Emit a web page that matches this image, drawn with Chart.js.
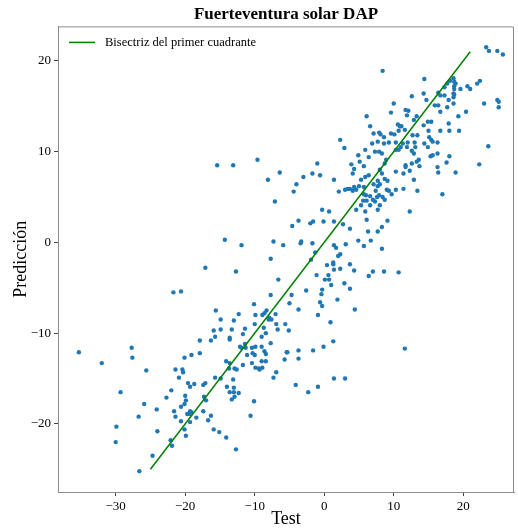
<!DOCTYPE html>
<html>
<head>
<meta charset="utf-8">
<script src="https://cdn.jsdelivr.net/npm/chart.js@4"></script>
<style>
  html, body { margin: 0; padding: 0; background: #fff; }
</style>
</head>
<body>
<canvas id="dapChart" width="518" height="528"></canvas>
<script>
// Test vs predicted DAP values, grouped by area of the plot
const testTop = [
  23.3, 23.7, 24.9, 25.7, 14.4, 18.1, 18.6, 18.7, 18.9, 17.7,
  17.3, 19.6, 20.6, 21.0, 22.0, 22.4, 18.7, 18.7, 18.6, 18.6,
  18.7, 14.3, 14.7, 12.6, 16.4, 16.7, 17.3, 17.9, 15.9, 16.4,
  17.7, 16.7, 18.6, 11.7, 12.1, 11.9, 13.3, 12.9, 14.9, 15.4,
  14.3, 17.9, 19.3, 20.4, 23.0, 24.9, 25.1, 25.1, 11.1, 11.6,
  15.0, 16.7, 18.0, 19.4, 12.7, 13.4, 15.1, 15.4, 15.6, 16.3,
  11.3, 12.0, 13.0, 14.4, 14.9, 11.0, 11.9, 12.6, 13.1, 12.9,
  23.6, 15.3, 15.6, 16.3, 18.0, 13.6, 13.3, 12.6, 11.7, 11.7,
  11.4, 12.3, 13.7, 16.3, 16.4, 17.6, 18.9, 22.3, 12.9
];
const predTop = [
  21.5, 21.1, 21.1, 20.7, 18.0, 17.8, 18.1, 17.7, 17.5, 17.5,
  17.1, 16.9, 17.2, 16.9, 17.5, 17.8, 17.2, 16.9, 16.4, 16.0,
  16.3, 16.4, 15.7, 16.1, 16.5, 16.2, 16.2, 15.7, 15.1, 15.1,
  14.9, 14.4, 15.3, 14.6, 14.5, 14.0, 13.9, 13.5, 13.3, 13.3,
  12.9, 13.1, 13.9, 14.4, 15.3, 15.7, 15.5, 14.9, 12.8, 12.4,
  12.3, 12.3, 12.3, 12.3, 11.8, 11.8, 11.6, 11.3, 11.1, 11.0,
  10.9, 11.0, 11.0, 10.9, 10.5, 10.5, 10.5, 10.1, 10.5, 9.8,
  10.6, 9.5, 9.6, 9.8, 9.5, 9.1, 8.9, 8.7, 8.5, 8.3,
  7.6, 7.9, 8.4, 8.3, 7.7, 8.8, 7.7, 8.6, 6.9
];

const testUpper = [
  8.4, 10.0, 9.6, 6.1, 6.6, 7.1, 7.9, 8.1, 8.6, 9.6,
  10.1, 10.7, 10.6, 10.9, 7.7, 6.9, 8.6, 9.3, 10.3, 2.3,
  2.9, 5.9, 7.3, 7.9, 8.3, 10.3, 10.7, 4.9, 6.4, 5.1,
  3.9, 4.3, 5.7, 8.9, 8.7, -1.0, -1.7, -3.0, -0.6, 1.4,
  4.1, 5.9, 6.4, 5.3, 8.3, 8.7, 7.7, 9.1, 10.3, 8.0,
  11.4, 13.4, 17.0, 12.3
];
const predUpper = [
  18.9, 15.3, 14.3, 13.9, 12.8, 12.0, 12.1, 11.9, 11.6, 12.0,
  11.9, 12.3, 13.0, 12.8, 11.1, 10.9, 10.9, 11.0, 11.0, 11.3,
  10.4, 10.2, 10.0, 10.0, 9.8, 10.2, 10.2, 9.6, 9.4, 8.9,
  8.6, 8.1, 8.4, 9.1, 8.7, 8.7, 7.6, 7.2, 7.4, 6.9,
  7.6, 7.2, 7.4, 6.9, 7.6, 7.0, 6.8, 6.8, 7.8, 8.0,
  5.9, 5.7, 5.3, 3.4
];

const testMid = [
  -4.0, -4.4, 2.1, 3.0, 3.4, 3.7, 4.1, 4.3, 4.6, 5.0,
  5.7, 6.0, 5.6, 6.1, 5.7, 6.6, 7.0, 7.3, 7.6, 7.9,
  8.4, 8.7, 7.4, 7.7, 8.0, 7.1, 9.0, 9.3, 9.7, 10.3,
  5.3, 6.6, 4.6, 8.0, 7.7, 5.9, -0.3, 0.7, -3.7, -4.6,
  -2.0, -1.6, -0.1, 1.4, 2.7, 6.1, 9.1, 3.7, 8.3, 6.3,
  7.7, -3.3, -3.4, -1.7, 1.4, 1.7, 3.1, 4.9, 5.7, 6.7,
  8.3, -1.3, 2.3, 2.0, -1.9, 1.3, 1.3, 3.7, 0.4, 1.4,
  2.3, 4.3, 7.0, 8.6, 10.7, 6.4, -1.1, 0.6, 0.7, 0.1,
  1.0, 2.9, -2.6, -0.3, 3.7, -0.4, -4.7, -5.0, 1.9, -0.6,
  -0.3, -3.7, 4.4, -0.9, 0.9, -5.1
];
const predMid = [
  6.4, 5.6, 5.6, 5.8, 5.9, 5.9, 5.7, 6.1, 5.8, 6.2,
  6.1, 5.2, 4.6, 4.6, 5.3, 5.1, 4.7, 4.5, 5.0, 5.2,
  5.0, 4.7, 5.7, 6.2, 6.4, 6.4, 5.8, 5.7, 5.3, 5.8,
  4.1, 4.1, 3.6, 4.1, 3.6, 3.4, 3.6, 3.4, 2.4, 1.8,
  2.1, 2.3, 2.3, 2.3, 2.0, 2.5, 2.4, 1.5, 1.7, 1.2,
  1.2, 0.1, -0.1, -0.1, -0.3, -0.6, -0.2, 0.2, -0.4, 0.2,
  -0.7, -1.1, -1.3, -1.5, -1.9, -2.2, -2.4, -2.4, -2.5, -3.0,
  -2.9, -3.1, -3.2, -3.2, -3.3, -3.7, -3.6, -3.6, -4.1, -4.1,
  -4.7, -4.5, -5.3, -5.2, -5.1, -5.7, -5.8, -6.7, -6.3, -6.6,
  -7.0, -7.4, -7.4, -8.0, -8.8, -9.7
];

const testLeft = [
  -7.1, -14.3, -11.9, -7.3, -5.9, -7.7, -17.1, -12.7, -6.6, -21.7,
  -20.6, -7.7, -10.1, -15.6, -8.3, -8.6, -8.9, -9.9, -12.3, -7.0,
  -14.9, -13.0, -7.9, -7.6, -8.0, -10.0, -6.9, -6.7, -11.4, -13.3,
  -14.9, -15.9, -8.7, -5.6, -11.7, -8.4, -15.7, -13.6, -9.0,
  -15.4, -13.1, -9.6, -8.1, -6.4
];
const predLeft = [
  4.5, 0.3, -0.3, 0.1, -0.3, -1.8, -2.8, -3.2, -4.1, -5.5,
  -5.4, -5.8, -6.8, -7.5, -7.5, -7.8, -8.0, -8.0, -7.9, -7.9,
  -8.5, -8.6, -8.3, -8.5, -8.5, -9.0, -9.0, -9.6, -9.5, -9.6,
  -9.6, -9.7, -9.4, -9.0, -10.1, -10.0, -10.4, -10.5, -10.4,
  8.5, 8.5, 9.1, 6.9, 7.7
];

const testLower = [
  -17.9, -16.3, -13.6, -11.4, -12.1, -11.9, -11.3, -10.4, -9.9, -9.0,
  -8.6, -8.4, -7.7, -10.3, -10.0, -20.1, -19.1, -17.9, -11.1, -9.0,
  -8.4, -5.7, -5.4, -14.1, -13.6, -10.4, -11.7, -12.9, -13.7, -12.6,
  -9.9, -9.4, -9.3, -8.9, -21.4, -20.4, -20.3, -20.9, -15.7, -14.9,
  -13.1, -7.3, -6.9, -19.6, -19.3, -18.7, -17.4, -17.1, -14.0, -13.0,
  -13.6, -13.0, -12.3, -12.9, -13.3, -20.0, -17.3, -19.9, -17.0, -10.1,
  -20.1, -20.6, -17.4, -21.6, -21.4, -19.3, -19.1, -19.7, -19.4, -18.4,
  -16.3, -10.6, -20.6, -19.3, -16.7, -20.1, -19.9, -15.9, -15.1, -14.1,
  -12.7, -21.9
];
const predLower = [
  -10.8, -10.8, -10.7, -11.2, -11.5, -11.6, -11.6, -11.6, -11.5, -11.5,
  -12.0, -12.3, -11.1, -12.2, -12.4, -12.7, -12.4, -12.2, -12.4, -13.1,
  -13.1, -12.9, -12.1, -13.1, -13.3, -13.3, -13.5, -13.9, -13.9, -14.0,
  -13.8, -13.9, -14.0, -13.8, -14.0, -14.0, -14.3, -14.9, -14.9, -15.0,
  -15.1, -14.9, -14.3, -15.5, -15.9, -15.6, -15.7, -15.5, -15.9, -16.0,
  -16.5, -16.5, -16.6, -17.0, -17.3, -16.9, -17.0, -17.4, -17.4, -17.5,
  -17.8, -18.1, -18.6, -18.6, -19.2, -18.6, -18.7, -18.9, -18.9, -19.3,
  -19.1, -19.1, -19.7, -19.8, -19.6, -20.6, -21.3, -20.6, -20.9, -21.5,
  -22.8, -22.4
];

const testTail = [
  -35.3, -32.0, -27.7, -27.6, -25.6, -29.3, -22.0, -22.7, -25.9, -24.1,
  -26.7, -29.9, -30.0, -24.0, -22.1, -24.7, -26.6,
  -5.3, -3.7, -3.7, -1.6, -0.1, 1.3, 1.4, 3.0, -4.1, -2.3, -0.9,
  11.6
];
const predTail = [
  -12.1, -13.3, -11.6, -12.7, -14.1, -16.5, -16.3, -17.1, -17.8, -18.4,
  -19.2, -20.3, -22.0, -20.8, -21.8, -23.5, -25.2,
  -12.1, -11.9, -12.8, -11.9, -11.5, -10.9, -15.0, -15.0, -15.7, -16.5, -15.9,
  -11.7
];

// ends of the y = x reference line
const bisectorEnds = [-25, 21];
const xTicks = [-30, -20, -10, 0, 10, 20];
const yTicks = [-20, -10, 0, 10, 20];

const serif = "'Liberation Serif', 'Times New Roman', serif";
const legendText = 'Bisectriz del primer cuadrante';

const testAll = [].concat(testTop, testUpper, testMid, testLeft, testLower, testTail);
const predAll = [].concat(predTop, predUpper, predMid, predLeft, predLower, predTail);
const points = testAll.map((t, i) => ({ x: t, y: predAll[i] }));

const minusSign = v => String(v).replace('-', '\u2212');

// closes the box and draws the legend inside the plot area
const frameAndLegend = {
  id: 'frameAndLegend',
  afterDraw(chart) {
    const { ctx, chartArea: a } = chart;
    ctx.save();
    ctx.strokeStyle = '#8c8c8c';
    ctx.lineWidth = 1;
    ctx.beginPath();
    ctx.moveTo(a.left, a.top + 0.5);
    ctx.lineTo(a.right - 0.5, a.top + 0.5);
    ctx.lineTo(a.right - 0.5, a.bottom);
    ctx.stroke();

    ctx.strokeStyle = '#008000';
    ctx.lineWidth = 1.5;
    ctx.beginPath();
    ctx.moveTo(a.left + 11, a.top + 16);
    ctx.lineTo(a.left + 37, a.top + 16);
    ctx.stroke();

    ctx.fillStyle = '#000';
    ctx.font = '12.5px ' + serif;
    ctx.textBaseline = 'middle';
    ctx.fillText(legendText, a.left + 47, a.top + 16.5);
    ctx.restore();
  }
};

new Chart(document.getElementById('dapChart'), {
  type: 'scatter',
  data: {
    datasets: [
      {
        type: 'line',
        label: legendText,
        data: bisectorEnds.map(v => ({ x: v, y: v })),
        borderColor: '#008000',
        borderWidth: 1.5,
        pointRadius: 0,
        fill: false
      },
      {
        label: 'Predicción',
        data: points,
        pointRadius: 2.2,
        backgroundColor: '#1f77b4',
        borderWidth: 0
      }
    ]
  },
  options: {
    responsive: false,
    animation: false,
    layout: { padding: { right: 1 } },
    plugins: {
      legend: { display: false },
      tooltip: { enabled: false },
      title: {
        display: true,
        text: 'Fuerteventura solar DAP',
        fullSize: false,
        color: '#000',
        font: { family: serif, size: 17, weight: 'bold' },
        padding: { top: 4, bottom: 2 }
      }
    },
    scales: {
      x: {
        type: 'linear',
        min: -38.3,
        max: 27.3,
        afterBuildTicks: s => { s.ticks = xTicks.map(v => ({ value: v })); },
        afterFit: s => { s.height = 36; },
        ticks: { callback: minusSign, color: '#000', padding: 3, maxRotation: 0, font: { family: serif, size: 13 } },
        grid: { drawOnChartArea: false, tickLength: 4, tickColor: '#444' },
        border: { color: '#8c8c8c' },
        title: { display: true, text: 'Test', color: '#000', font: { family: serif, size: 18, lineHeight: 1 }, padding: { top: 0, bottom: 0 } }
      },
      y: {
        type: 'linear',
        min: -27.5,
        max: 23.8,
        afterBuildTicks: s => { s.ticks = yTicks.map(v => ({ value: v })); },
        afterFit: s => { s.width = 58; },
        ticks: { callback: minusSign, color: '#000', padding: 3, font: { family: serif, size: 13 } },
        grid: { drawOnChartArea: false, tickLength: 4, tickColor: '#444' },
        border: { color: '#8c8c8c' },
        title: { display: true, text: 'Predicción', color: '#000', font: { family: serif, size: 18, lineHeight: 1 }, padding: { top: 12, bottom: 0 } }
      }
    }
  },
  plugins: [frameAndLegend]
});
</script>
</body>
</html>
